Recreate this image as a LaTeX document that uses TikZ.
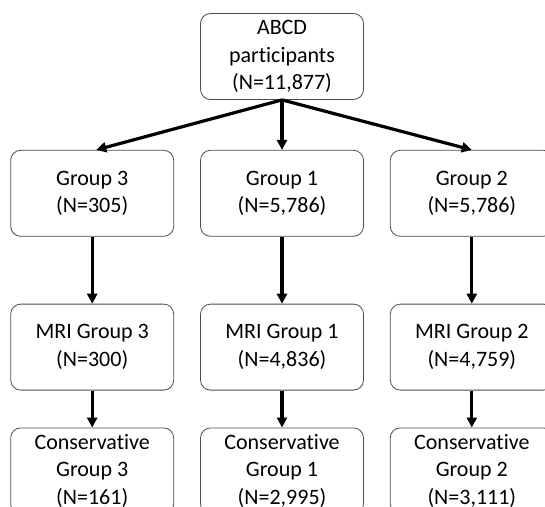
\documentclass[tikz,border=0pt]{standalone}
\usepackage{fontspec}
\setmainfont{Carlito}[Ligatures=NoCommon]
\usetikzlibrary{arrows.meta, positioning}

\begin{document}
\begin{tikzpicture}[x=1pt, y=1pt, >={Triangle[length=10pt, width=10pt]},
    box/.style={draw=black!70, line width=0.8pt, rounded corners=10pt,
        minimum width=163pt, minimum height=86pt, align=center,
        inner sep=2pt, font=\fontsize{22}{27.5}\selectfont},
    flow/.style={->, line width=3.2pt}]
        \useasboundingbox (0,0) rectangle (545,-506);

        % top of the tree
        \node[box] (abcd) at (282,-56.5) {ABCD\\participants\\(N=11,877)};

        % groups
        \node[box, below=50pt of abcd] (g1) {Group 1\\(N=5,786)};
        \node[box, left=26pt of g1] (g3) {Group 3\\(N=305)};
        \node[box, right=26pt of g1] (g2) {Group 2\\(N=5,786)};

        % MRI subsets
        \node[box, below=67pt of g3] (mri3) {MRI Group 3\\(N=300)};
        \node[box, below=67pt of g1] (mri1) {MRI Group 1\\(N=4,836)};
        \node[box, below=67pt of g2] (mri2) {MRI Group 2\\(N=4,759)};

        % conservative subsets
        \node[box, below=37pt of mri3] (cons3) {Conservative\\Group 3\\(N=161)};
        \node[box, below=37pt of mri1] (cons1) {Conservative\\Group 1\\(N=2,995)};
        \node[box, below=37pt of mri2] (cons2) {Conservative\\Group 2\\(N=3,111)};

        \draw[flow] (abcd.south) -- ([xshift=4pt]g3.north);
        \draw[flow] (abcd.south) -- (g1.north);
        \draw[flow] (abcd.south) -- (g2.north);

        \draw[flow] (g3) -- (mri3);
        \draw[flow] (g1) -- (mri1);
        \draw[flow] (g2) -- (mri2);

        \draw[flow] (mri3) -- (cons3);
        \draw[flow] (mri1) -- (cons1);
        \draw[flow] (mri2) -- (cons2);
    \end{tikzpicture}
\end{document}
